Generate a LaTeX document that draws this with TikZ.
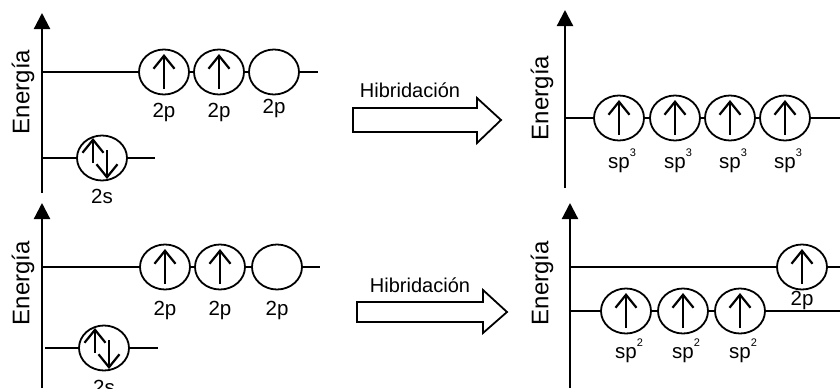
\documentclass[tikz,border=0pt]{standalone}
\usepackage{fontspec}
\setmainfont{Liberation Sans}
\usetikzlibrary{shapes.geometric,arrows.meta}
\newcommand{\supr}[1]{\raisebox{0.55em}{\fontsize{11}{11}\selectfont #1}}
\begin{document}
\begin{tikzpicture}[x=1pt,y=-1pt,
  orb/.style={ellipse,draw,line width=1.8pt,fill=white,minimum width=50pt,minimum height=45pt,inner sep=0pt},
  lvl/.style={line width=1.8pt},
  axis/.style={line width=2.2pt,-{Triangle[width=16pt,length=16pt]}},
  spin/.style={line width=2.2pt,-{Straight Barb[length=13pt,width=21pt,line width=2.2pt]}},
  lab/.style={font=\fontsize{20.5}{20.5}\selectfont,anchor=base,inner sep=0pt},
  en/.style={font=\fontsize{24}{24}\selectfont,rotate=90,inner sep=0pt},
  hib/.style={font=\fontsize{20}{20}\selectfont,anchor=base,inner sep=0pt},
  big/.style={line width=1.8pt,line join=miter}]
\useasboundingbox (0,0) rectangle (840,388);

% ---------- Panel A (top left) ----------
\coordinate (A0) at (42,193); \coordinate (A1) at (42,13);
\draw[axis] (A0) -- (A1);
\node[en] (eA) at (23,92) {Energía};
\coordinate (aPs) at (42,72); \coordinate (aPe) at (318,72);
\node[orb] (a1) at (164,72) {};
\node[orb] (a2) at (219,72) {};
\node[orb] (a3) at (274,72) {};
\draw[lvl] (aPs) -- (a1.west) (a1.east) -- (a2.west) (a2.east) -- (a3.west) (a3.east) -- (aPe);
\draw[spin] ([yshift=-17pt]a1.center) -- ([yshift=18pt]a1.center);
\draw[spin] ([yshift=-17pt]a2.center) -- ([yshift=18pt]a2.center);
\node[lab] (la1) at (164,117) {2p};
\node[lab] (la2) at (219,117) {2p};
\node[lab] (la3) at (274,113) {2p};
\coordinate (aSs) at (42,158); \coordinate (aSe) at (155,158);
\node[orb] (as) at (102,158) {};
\draw[lvl] (aSs) -- (as.west) (as.east) -- (aSe);
\draw[spin] ([xshift=-9pt,yshift=-5pt]as.center) -- ([xshift=-9pt,yshift=20pt]as.center);
\draw[spin] ([xshift=5pt,yshift=8pt]as.center) -- ([xshift=5pt,yshift=-21pt]as.center);
\node[lab] (las) at (102,203) {2s};

% ---------- Panel B (top right) ----------
\node[hib] (hB) at (410,97) {Hibridación};
\draw[big] (353,108) -- (477,108) -- (477,98) -- (501,120) -- (477,143) -- (477,132) -- (353,132) -- cycle;
\coordinate (B0) at (565,188); \coordinate (B1) at (565,10);
\draw[axis] (B0) -- (B1);
\node[en] (eB) at (542,98) {Energía};
\coordinate (bLs) at (565,118); \coordinate (bLe) at (840,118);
\node[orb] (b1) at (619,118) {};
\node[orb] (b2) at (675,118) {};
\node[orb] (b3) at (730,118) {};
\node[orb] (b4) at (785,118) {};
\draw[lvl] (bLs) -- (b1.west) (b1.east) -- (b2.west) (b2.east) -- (b3.west) (b3.east) -- (b4.west) (b4.east) -- (bLe);
\foreach \n in {b1,b2,b3,b4}{
  \draw[spin] ([yshift=-17pt]\n.center) -- ([yshift=18pt]\n.center);
}
\node[lab] (lb1) at (622,168) {sp\supr{3}};
\node[lab] (lb2) at (678,168) {sp\supr{3}};
\node[lab] (lb3) at (733,168) {sp\supr{3}};
\node[lab] (lb4) at (788,168) {sp\supr{3}};

% ---------- Panel C (bottom left) ----------
\coordinate (C0) at (42,388); \coordinate (C1) at (42,203);
\draw[axis] (C0) -- (C1);
\node[en] (eC) at (23,283) {Energía};
\coordinate (cPs) at (42,267); \coordinate (cPe) at (320,267);
\node[orb] (c1) at (165,267) {};
\node[orb] (c2) at (220,267) {};
\node[orb] (c3) at (277,267) {};
\draw[lvl] (cPs) -- (c1.west) (c1.east) -- (c2.west) (c2.east) -- (c3.west) (c3.east) -- (cPe);
\draw[spin] ([yshift=-17pt]c1.center) -- ([yshift=18pt]c1.center);
\draw[spin] ([yshift=-17pt]c2.center) -- ([yshift=18pt]c2.center);
\node[lab] (lc1) at (165,315) {2p};
\node[lab] (lc2) at (220,315) {2p};
\node[lab] (lc3) at (277,315) {2p};
\coordinate (cSs) at (45,348); \coordinate (cSe) at (158,348);
\node[orb] (cs) at (104,348) {};
\draw[lvl] (cSs) -- (cs.west) (cs.east) -- (cSe);
\draw[spin] ([xshift=-9pt,yshift=-5pt]cs.center) -- ([xshift=-9pt,yshift=20pt]cs.center);
\draw[spin] ([xshift=5pt,yshift=8pt]cs.center) -- ([xshift=5pt,yshift=-21pt]cs.center);
\node[lab] (lcs) at (104,394) {2s};

% ---------- Panel D (bottom right) ----------
\node[hib] (hD) at (420,292) {Hibridación};
\draw[big] (357,302) -- (483,302) -- (483,290) -- (507,312) -- (483,333) -- (483,322) -- (357,322) -- cycle;
\coordinate (D0) at (570,388); \coordinate (D1) at (570,203);
\draw[axis] (D0) -- (D1);
\node[en] (eD) at (542,283) {Energía};
\coordinate (dPs) at (570,267); \coordinate (dPe) at (840,267);
\node[orb] (dp) at (802,267) {};
\draw[lvl] (dPs) -- (dp.west) (dp.east) -- (dPe);
\draw[spin] ([yshift=-17pt]dp.center) -- ([yshift=18pt]dp.center);
\coordinate (dLs) at (570,311); \coordinate (dLe) at (840,311);
\node[orb] (d1) at (626,311) {};
\node[orb] (d2) at (683,311) {};
\node[orb] (d3) at (740,311) {};
\draw[lvl] (dLs) -- (d1.west) (d1.east) -- (d2.west) (d2.east) -- (d3.west) (d3.east) -- (dLe);
\foreach \n in {d1,d2,d3}{
  \draw[spin] ([yshift=-17pt]\n.center) -- ([yshift=18pt]\n.center);
}
\node[lab] (ldp) at (802,305) {2p};
\node[lab] (ld1) at (629,358) {sp\supr{2}};
\node[lab] (ld2) at (686,358) {sp\supr{2}};
\node[lab] (ld3) at (743,358) {sp\supr{2}};
\end{tikzpicture}
\end{document}
